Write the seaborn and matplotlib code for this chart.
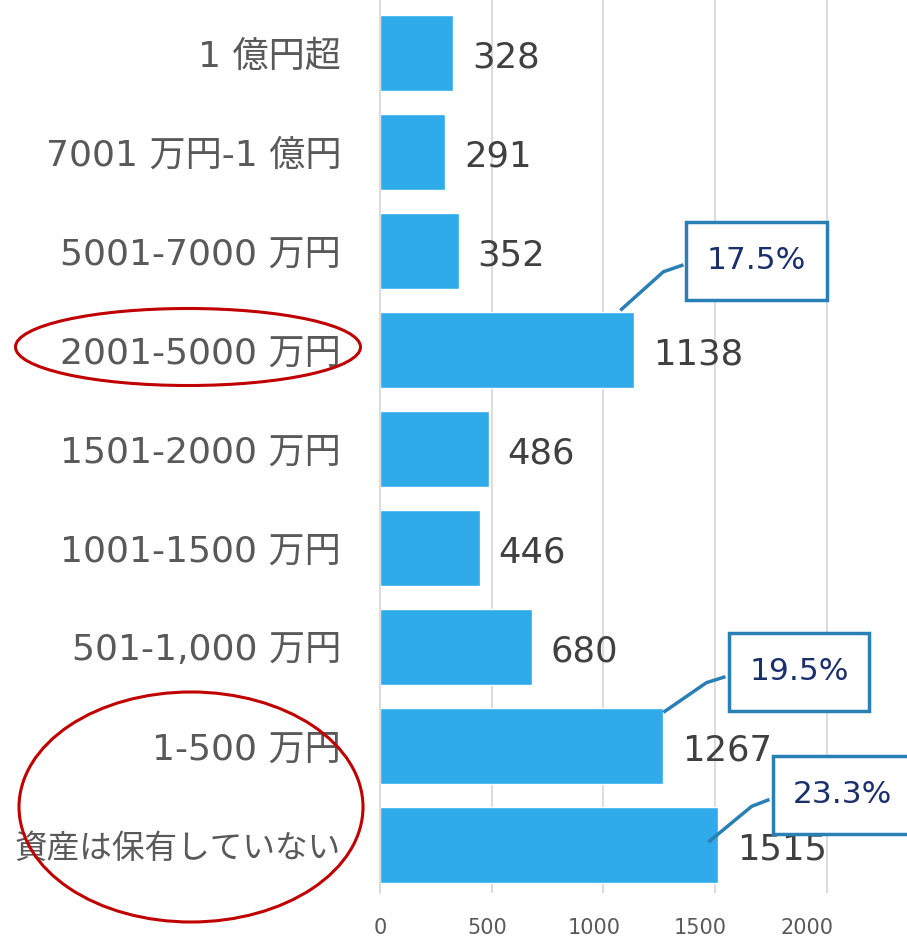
import matplotlib
matplotlib.use("Agg")
import matplotlib.pyplot as plt
import seaborn as sns
from matplotlib.patches import Ellipse, Rectangle

categories = ["1 億円超", "7001 万円-1 億円", "5001-7000 万円", "2001-5000 万円",
              "1501-2000 万円", "1001-1500 万円", "501-1,000 万円", "1-500 万円",
              "資産は保有していない"]
counts = [328, 291, 352, 1138, 486, 446, 680, 1267, 1515]
xticks = [0, 500, 1000, 1500, 2000]

# callouts: label, leader line points (x, y), box centre
callout_text = ["17.5%", "19.5%", "23.3%"]
callout_line = [
    [(1076, 2.60), (1269, 2.21), (1359, 2.14)],
    [(1269, 6.66), (1462, 6.36), (1547, 6.30)],
    [(1471, 7.97), (1664, 7.61), (1744, 7.54)],
]
callout_box = [(1686, 2.10), (1877, 6.25), (2072, 7.49)]

sns.set_theme(style="white")
plt.rcParams["font.family"] = ["DejaVu Sans", "Noto Sans CJK JP"]

BAR = "#2FABE9"
BOX = "#2A7FB5"

fig = plt.figure(figsize=(9.07, 9.43), dpi=100)
ax = fig.add_axes([0.419, 0.053, 0.581, 0.947])

sns.barplot(x=counts, y=categories, color=BAR, saturation=1, width=0.76,
            orient="h", ax=ax)

ax.set_xlim(0, 2360)
ax.set_ylim(8.485, -0.535)
# gridlines on the true values; the labels in the source sit a bit to the left
ax.set_xticks(xticks, minor=True)
ax.set_xticks([v * 0.957 for v in xticks], [str(v) for v in xticks])
ax.xaxis.grid(True, which="minor", color="#D9D9D9", lw=1.3)
ax.xaxis.grid(False, which="major")
ax.set_axisbelow(True)
for s in ["top", "right", "bottom"]:
    ax.spines[s].set_visible(False)
ax.spines["left"].set_color("#D9D9D9")
ax.spines["left"].set_linewidth(1.3)
ax.tick_params(axis="y", length=0, pad=28, labelsize=26, labelcolor="#595959")
ax.tick_params(axis="x", which="both", length=0, pad=18, labelsize=15,
               labelcolor="#595959")
ax.get_yticklabels()[-1].set_fontsize(23.5)
ax.set_xlabel("")
ax.set_ylabel("")

for i, v in enumerate(counts):
    ax.text(v + 85, i + 0.05, str(v), va="center", ha="left",
            fontsize=25.5, color="#404040")

for txt, pts, (cx, cy) in zip(callout_text, callout_line, callout_box):
    xs, ys = zip(*pts)
    ax.plot(xs, ys, color=BOX, lw=2.5, clip_on=False, solid_capstyle="butt")
    w, h = 628, 0.788
    ax.add_patch(Rectangle((cx - w / 2, cy - h / 2), w, h, facecolor="white",
                           edgecolor=BOX, lw=2.5, clip_on=False, zorder=5))
    ax.text(cx, cy, txt, ha="center", va="center", fontsize=22.5,
            color="#1B2F6B", zorder=6, clip_on=False)

# red ellipses round the highlighted labels (figure fraction coords)
W, H = 907, 943
fig.add_artist(Ellipse((188 / W, 1 - 347 / H), 345 / W, 77 / H,
                       transform=fig.transFigure, fill=False,
                       edgecolor="#C00000", lw=2.2))
fig.add_artist(Ellipse((191 / W, 1 - 807 / H), 344 / W, 230 / H,
                       transform=fig.transFigure, fill=False,
                       edgecolor="#C00000", lw=2.2))

fig.savefig("out.png", dpi=100)
